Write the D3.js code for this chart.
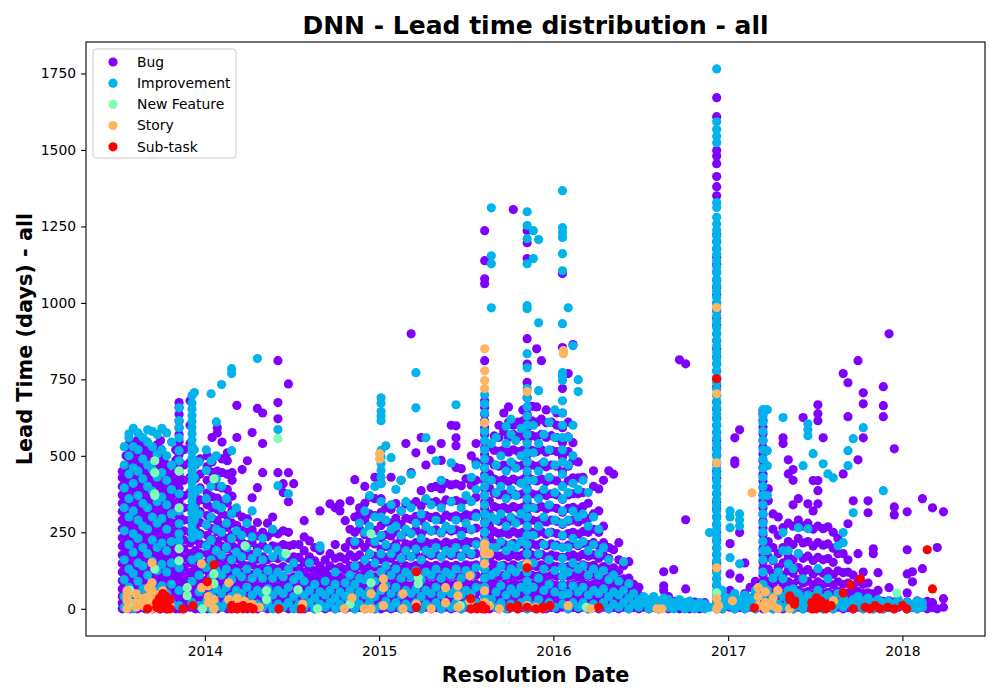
<!DOCTYPE html>
<html>
<head>
<meta charset="utf-8">
<script src="https://cdn.jsdelivr.net/npm/d3@7"></script>
<style>
  body { margin: 0; background: #fff; }
  text { font-family: "DejaVu Sans", sans-serif; }
</style>
</head>
<body>
<svg id="chart" width="1000" height="700"></svg>
<script>
// issue types, drawn in this order (later ones on top)
const categories = ["Bug", "Improvement", "New Feature", "Story", "Sub-task"];
const colors = ["#8000ff", "#00b4eb", "#80ffb4", "#ffb462", "#ff0000"];

const yearTicks = ["2014", "2015", "2016", "2017", "2018"];
const leadTicks = [0, 250, 500, 750, 1000, 1250, 1500, 1750];

// [resolution date, [lead times in days resolved that day]]
const bugData = [
  ["2013-07-12",[0,18,40,65,92,120,148,176,205,232,262,290,318,345,372,400,428,450]],
  ["2013-07-20",[5,30,55,80,108,135,162,190,218,248,275,305,332,360,388,415,442,470,500]],
  ["2013-07-28",[0,20,45,70,98,125,152,180,210,238,265,295,322,350,378,405,435,462,490,520,548]],
  ["2013-08-05",[8,32,58,85,112,140,168,195,225,252,280,308,338,365,392,420,448,478,505,535]],
  ["2013-08-13",[0,22,48,75,102,130,158,186,214,242,270,298,326,355,383,410,440,468,496,525,552]],
  ["2013-08-21",[5,30,56,82,110,138,165,194,222,250,278,306,335,362,390,418,446,475,503,530]],
  ["2013-08-29",[0,20,45,72,100,127,155,183,210,240,268,296,324,352,380,408,436,465,492,520,548]],
  ["2013-09-06",[8,34,60,86,114,142,170,198,226,254,282,310,338,366,394,422,450,478,506,534]],
  ["2013-09-14",[0,24,50,76,104,132,160,188,216,244,272,300,328,356,384,412,440,468,496]],
  ["2013-09-22",[5,30,56,84,112,140,168,196,224,252,280,308,336,364,392,420,448,476,505,535]],
  ["2013-09-30",[0,22,48,74,102,130,158,186,214,242,270,298,326,354,382,410,438,466,494,522,550]],
  ["2013-10-08",[6,32,58,86,114,142,170,198,226,254,282,310,338,366,394,422,450,478]],
  ["2013-10-16",[0,24,50,78,106,134,162,190,218,246,274,302,330,358,386,414,442,470]],
  ["2013-10-24",[5,30,56,84,112,140,168,196,224,252,280,310,340,370,400,430]],
  ["2013-11-01",[0,22,48,76,104,132,160,190,220,250,280,310,345,380,415,450,485,520]],
  ["2013-11-08",[0,20,42,64,86,108,130,152,174,196,218,240,262,284,306,328,350,372,394,416,438,460,482,504,526,548,570,592,614,636,658,674]],
  ["2013-11-18",[0,25,50,78,105,135,165,195,225,255,290,330,370,420,470,520]],
  ["2013-12-01",[5,30,58,88,118,150,180,215,250,290,330,380,430,480,540,600,680]],
  ["2013-12-12",[0,22,48,75,102,130,160,190,225,262,300,340,380,425,470]],
  ["2013-12-22",[0,18,40,66,94,122,150,180,212,246,282,318,356,395,440,490]],
  ["2014-01-06",[0,20,44,70,96,124,152,180,210,240,272,305,340,378,420,465,500]],
  ["2014-01-16",[5,28,54,80,108,136,166,196,228,262,296,330,366,404,446,480,560]],
  ["2014-01-27",[0,22,46,72,100,128,158,188,220,252,288,325,362,400,450,575,592]],
  ["2014-02-06",[6,30,56,84,112,142,172,204,238,272,310,350,395,445,490,545]],
  ["2014-02-17",[0,24,50,76,104,134,164,196,230,266,304,346,390,440,484,510]],
  ["2014-02-27",[4,28,54,82,110,140,172,206,242,280,322,368,420,445]],
  ["2014-03-09",[0,22,48,74,102,132,164,198,234,272,314,560,665]],
  ["2014-03-20",[5,30,56,84,114,146,180,216,256,300,455]],
  ["2014-03-31",[0,24,50,78,108,140,174,210,250,294,484]],
  ["2014-04-10",[4,28,54,82,112,144,178,216,258,363,576]],
  ["2014-04-21",[0,22,46,72,100,130,162,198,238,282,396,655]],
  ["2014-05-02",[5,28,52,78,106,136,170,208,250,445,540,640]],
  ["2014-05-12",[0,20,44,70,98,128,160,196,236,280]],
  ["2014-05-23",[4,26,50,76,104,134,168,206,250,300]],
  ["2014-06-03",[0,22,46,72,100,130,164,202,245,445,621,674,811]],
  ["2014-06-14",[5,28,52,78,106,138,172,210,255,380,409]],
  ["2014-06-25",[0,20,44,70,98,130,165,205,250,350,445,735]],
  ["2014-07-06",[4,26,50,76,104,136,170,210,409]],
  ["2014-07-17",[0,22,46,72,100,132,168,210]],
  ["2014-07-28",[0,18,40,64,90,120,152,190,235,288]],
  ["2014-08-08",[5,26,50,76,104,135,170,222]],
  ["2014-08-19",[0,20,42,68,96,124,157,200]],
  ["2014-08-30",[4,24,48,74,100,114,140,190,320]],
  ["2014-09-10",[0,20,44,70,96,124,160]],
  ["2014-09-20",[5,26,50,78,106,140,180,343]],
  ["2014-10-01",[0,22,46,72,100,130,165,210,330]],
  ["2014-10-11",[4,26,50,76,104,136,170,320,343]],
  ["2014-10-22",[0,20,44,70,98,128,162,200,288]],
  ["2014-11-01",[5,26,50,78,108,140,176,220,260,353]],
  ["2014-11-11",[0,22,46,72,100,132,168,208,250,300,422]],
  ["2014-11-21",[4,26,50,78,108,140,176,216,260,288,310,330]],
  ["2014-12-02",[0,20,44,70,98,128,162,200,242,290,345,400]],
  ["2014-12-12",[5,26,52,80,110,142,178,218,262,310,365]],
  ["2014-12-23",[0,22,46,74,104,136,172,212,256,305,360,430]],
  ["2015-01-05",[0,20,44,70,98,128,160,195,232,272,315,360,410]],
  ["2015-01-15",[5,26,50,78,106,136,168,204,242,284,330]],
  ["2015-01-26",[0,22,46,72,100,130,164,200,238,280,325,430]],
  ["2015-02-05",[4,28,52,80,110,142,176,212,252,296,344]],
  ["2015-02-16",[0,20,44,70,98,128,160,196,234,276,320,420]],
  ["2015-02-26",[5,26,50,78,108,140,174,212,252,296,342,540]],
  ["2015-03-09",[0,22,46,74,104,136,170,208,248,292,340,445,899]],
  ["2015-03-19",[4,26,52,80,110,142,178,216,258,302,350,510]],
  ["2015-03-30",[0,20,44,72,100,132,166,204,244,288,336,386,560]],
  ["2015-04-09",[5,28,54,82,112,144,180,218,260,305,354,470]],
  ["2015-04-20",[0,22,48,76,106,138,174,212,254,298,346,396,520]],
  ["2015-04-30",[4,26,52,80,110,142,178,216,258,302,350,400]],
  ["2015-05-11",[0,22,46,74,104,136,170,208,248,292,340,392,485,540]],
  ["2015-05-21",[5,28,54,82,112,144,180,218,260,306,356,410]],
  ["2015-06-01",[0,22,48,76,106,138,174,212,254,300,350,405,600]],
  ["2015-06-11",[4,26,52,80,110,142,178,216,258,304,354,408,462,533,559,598]],
  ["2015-06-22",[0,20,46,74,104,136,172,210,252,298,348,402,458]],
  ["2015-07-02",[5,28,54,82,112,144,180,220,262,308,358,425]],
  ["2015-07-13",[0,22,48,76,106,140,176,216,258,304,352,404,500]],
  ["2015-07-23",[4,26,52,80,110,144,180,220,264,312,365,420,480,540]],
  ["2015-08-10",[0,20,42,64,86,108,130,152,174,196,218,240,262,284,306,328,350,372,394,416,438,460,482,504,526,548,570,592,614,636,658,680,811,1063,1079,1138,1236]],
  ["2015-08-20",[0,22,46,72,100,130,162,196,232,270,310,352,396,440,485,530]],
  ["2015-08-30",[5,28,54,82,112,144,178,214,252,292,334,378,424,470,518,565]],
  ["2015-09-09",[0,22,48,76,106,138,172,208,246,286,328,372,418,466,515,560,600]],
  ["2015-09-19",[4,26,52,80,110,142,176,212,250,290,332,376,422,470,520,580,640]],
  ["2015-09-29",[0,22,46,74,104,136,170,206,244,284,326,370,416,464,512,560,610,660]],
  ["2015-10-09",[5,28,54,82,112,144,178,214,252,292,334,378,424,472,520,570,600,1305]],
  ["2015-10-19",[0,22,48,76,106,138,172,208,246,286,328,372,418,466,514,562,610]],
  ["2015-10-29",[4,26,52,80,110,142,176,212,250,290,332,376,422,470,518,566,614,650]],
  ["2015-11-07",[0,20,42,64,86,108,130,152,174,196,218,240,262,284,306,328,350,372,394,416,438,460,482,504,526,548,570,592,614,636,660,690,740,800,883,1145,1197,1236]],
  ["2015-11-17",[4,26,52,80,110,142,176,212,250,290,332,376,422,470,518,566,614,662]],
  ["2015-11-27",[0,22,48,76,106,138,172,208,246,286,328,372,418,466,514,562,610,660,850]],
  ["2015-12-07",[5,28,54,82,112,144,178,214,252,292,334,378,424,472,520,570,620,811]],
  ["2015-12-17",[0,22,46,74,104,136,170,206,244,284,326,370,416,464,512,560,608,650]],
  ["2015-12-28",[4,26,52,80,110,142,176,212,250,290,332,376,422,470,518,566,610]],
  ["2016-01-08",[0,22,48,76,106,138,172,208,246,286,328,372,418,466,514,560,600,640]],
  ["2016-01-20",[5,26,52,78,106,136,168,202,238,276,316,358,402,448,496,544,592,640,720,854,1096]],
  ["2016-02-01",[0,22,48,76,106,138,172,208,246,286,328,372,418,466,514,562,610,769]],
  ["2016-02-11",[4,26,52,80,110,142,176,212,250,290,332,376,428,484,543,864]],
  ["2016-02-22",[0,22,46,74,104,136,170,206,244,284,326,376,428,480]],
  ["2016-03-03",[5,28,54,82,112,144,178,214,252,292,334,380,430]],
  ["2016-03-14",[0,22,48,76,106,138,172,210,250,295,345]],
  ["2016-03-25",[4,26,52,80,110,142,176,216,260,310,400,451]],
  ["2016-04-05",[0,20,44,72,100,130,165,205,250,320,392]],
  ["2016-04-15",[5,26,50,78,106,138,175,216,270,420]],
  ["2016-04-26",[0,22,46,72,100,130,165,200,451]],
  ["2016-05-06",[4,24,48,74,102,134,193,440]],
  ["2016-05-17",[0,20,42,66,94,124,160,216]],
  ["2016-05-27",[5,24,46,70,98,141]],
  ["2016-06-07",[0,20,42,69,100,154]],
  ["2016-06-17",[4,24,49,80]],
  ["2016-06-28",[0,20,45,70]],
  ["2016-07-08",[5,25]],
  ["2016-07-19",[0,20]],
  ["2016-07-29",[4,30]],
  ["2016-08-08",[0,15]],
  ["2016-08-19",[5,25,60,75,121]],
  ["2016-08-29",[0,20,40]],
  ["2016-09-09",[4,24,128]],
  ["2016-09-21",[0,20,814]],
  ["2016-10-04",[5,65,291,801]],
  ["2016-10-12",[0,18]],
  ["2016-10-23",[4,22]],
  ["2016-11-02",[0,15]],
  ["2016-11-13",[5,20]],
  ["2016-12-08",[0,24,51,75,98,126,150,177,199,224,252,275,301,326,349,376,400,427,450,474,502,525,551,576,600,623,652,675,699,726,750,777,801,824,850,876,899,926,951,974,1000,1027,1050,1074,1101,1126,1149,1176,1201,1224,1350,1380,1413,1455,1480,1498,1609,1671]],
  ["2016-12-20",[0,15,40]],
  ["2017-01-05",[5,30,60,114,213]],
  ["2017-01-15",[0,20,474,484,559]],
  ["2017-01-25",[4,28,100,249,585]],
  ["2017-02-05",[0,22,50,150]],
  ["2017-02-16",[5,25,70]],
  ["2017-02-27",[0,20,45,90]],
  ["2017-03-15",[0,22,44,66,88,110,132,154,176,198,220,242,264,286,308,330,352,374,396,418,440,462,484,506,528,550,572,594,616,638,648]],
  ["2017-03-26",[4,28,56,90,130,170,220,353,392]],
  ["2017-04-05",[0,24,50,80,115,157,200,260,310]],
  ["2017-04-16",[5,30,60,95,135,180,240,300]],
  ["2017-04-26",[0,22,48,78,110,150,200,265,540,559]],
  ["2017-05-07",[4,28,56,88,125,170,220,280,441,487]],
  ["2017-05-17",[0,24,50,80,116,160,210,270,340,420,455]],
  ["2017-05-28",[5,30,60,95,135,180,230,290,360]],
  ["2017-06-07",[0,24,52,84,120,165,215,270,625]],
  ["2017-06-17",[4,28,56,90,128,172,220,280,343]],
  ["2017-06-28",[0,22,48,78,114,158,205,260,320,419]],
  ["2017-07-08",[5,28,56,88,124,168,216,270,343,386,419,615,638,667]],
  ["2017-07-19",[0,24,50,80,116,160,208,262,559]],
  ["2017-07-29",[4,26,54,86,122,164,212,268]],
  ["2017-08-09",[0,22,48,78,112,152,198,250]],
  ["2017-08-19",[5,28,56,88,124,180,230]],
  ["2017-08-30",[0,24,50,80,118,180,441,769]],
  ["2017-09-09",[4,26,52,84,120,160,278,628,739]],
  ["2017-09-20",[0,22,48,76,110,353]],
  ["2017-09-30",[5,28,56,88,180,487,811]],
  ["2017-10-11",[0,24,50,80,120,559,670,706]],
  ["2017-10-21",[4,26,52,84,314,353]],
  ["2017-11-01",[0,22,49,180,196]],
  ["2017-11-11",[5,28,60,118]],
  ["2017-11-22",[0,24,628,664,726]],
  ["2017-12-04",[4,26,69,899]],
  ["2017-12-15",[0,22,307,333,523]],
  ["2017-12-23",[5,28]],
  ["2018-01-11",[0,22,52,114,193,317]],
  ["2018-01-22",[4,88,121]],
  ["2018-02-01",[0,26]],
  ["2018-02-12",[5,131,360]],
  ["2018-02-22",[0,24]],
  ["2018-03-05",[4,20,330]],
  ["2018-03-15",[0,200]],
  ["2018-03-28",[5,33,317]]
];

const improvementData = [
  ["2013-07-16",[5,40,95,160,255,330,395,470,530]],
  ["2013-07-26",[20,70,130,210,300,360,440,500,559,572]],
  ["2013-08-04",[0,50,115,185,245,320,410,461,530,590]],
  ["2013-08-14",[30,90,150,230,290,370,450,520,575]],
  ["2013-08-24",[10,65,140,200,270,345,425,490,560]],
  ["2013-09-03",[0,45,110,180,260,330,400,470,545,585]],
  ["2013-09-13",[25,85,155,225,300,385,455,530,580]],
  ["2013-09-23",[5,60,125,200,280,350,430,505,570]],
  ["2013-10-03",[15,75,145,215,295,365,445,520,590]],
  ["2013-10-13",[0,50,120,190,260,340,420,500,575]],
  ["2013-10-23",[20,80,150,220,310,390,470,545]],
  ["2013-11-08",[10,60,134,222,245,278,320,376,451,484,517,559,592,615,657]],
  ["2013-12-05",[20,90,160,232,252,272,292,312,332,352,372,392,412,432,452,472,492,512,532,552,572,592,612,632,652,672,697]],
  ["2013-12-10",[250,290,330,380,430,470,520,707]],
  ["2013-12-20",[10,55,110,170,240,310,390,480]],
  ["2014-01-04",[25,75,135,205,275,360,452,520]],
  ["2014-01-14",[0,45,100,160,225,300,400,484,703]],
  ["2014-01-25",[15,65,125,190,260,340,425,500,611]],
  ["2014-02-05",[5,50,110,175,250,330,400,733]],
  ["2014-02-15",[20,70,130,200,280,360]],
  ["2014-02-26",[0,40,95,160,230,310,517,769,785]],
  ["2014-03-08",[15,60,120,185,255,330]],
  ["2014-03-19",[5,50,105,170,240]],
  ["2014-03-30",[20,70,130,200,280]],
  ["2014-04-10",[0,45,100,165,235,320]],
  ["2014-04-21",[15,60,118,185,818]],
  ["2014-05-02",[5,50,100,160,230]],
  ["2014-05-13",[20,65,125,195]],
  ["2014-05-23",[0,45,100,170,260]],
  ["2014-06-03",[15,60,120,190,402,586]],
  ["2014-06-14",[5,50,105,170]],
  ["2014-06-25",[20,70,130,376]],
  ["2014-07-06",[0,40,95,150]],
  ["2014-07-17",[15,55,110]],
  ["2014-07-28",[5,45,90]],
  ["2014-08-08",[20,60,150]],
  ["2014-08-19",[0,35,80]],
  ["2014-08-30",[15,55,200,206]],
  ["2014-09-10",[5,45,90]],
  ["2014-09-20",[20,60]],
  ["2014-10-01",[0,35,80,120]],
  ["2014-10-11",[15,55]],
  ["2014-10-22",[5,40,85]],
  ["2014-11-01",[20,60,110]],
  ["2014-11-11",[0,35,80,140,220]],
  ["2014-11-21",[15,55,100,280]],
  ["2014-12-02",[5,45,95,160,250,320]],
  ["2014-12-12",[20,60,110,180,270,370]],
  ["2014-12-23",[0,40,90,150,220,300,400]],
  ["2015-01-05",[10,60,120,180,240,300,350,409,430,452,474,496,518,615,630,645,672,690]],
  ["2015-01-15",[25,75,140,210,290,533]],
  ["2015-01-26",[5,50,110,180,260,340,494]],
  ["2015-02-05",[20,70,130,200,270,390]],
  ["2015-02-16",[0,45,100,165,240,320,420]],
  ["2015-02-26",[15,60,120,190,260,350]],
  ["2015-03-09",[5,50,105,170,245,330,440]],
  ["2015-03-19",[20,65,125,195,280,657,772]],
  ["2015-03-30",[0,40,95,160,230,310]],
  ["2015-04-09",[15,60,120,190,270,360,559]],
  ["2015-04-20",[5,50,110,180,255,340]],
  ["2015-04-30",[20,70,130,200,290,484]],
  ["2015-05-11",[0,45,100,170,250,330,420]],
  ["2015-05-21",[15,60,120,190,270]],
  ["2015-06-01",[5,50,110,180,260,350,477]],
  ["2015-06-11",[20,65,130,200,290,667]],
  ["2015-06-22",[0,45,100,170,240,330]],
  ["2015-07-02",[15,60,125,195,280,370]],
  ["2015-07-13",[5,50,110,180,260,350,430]],
  ["2015-07-23",[20,70,135,210,300,390,470]],
  ["2015-08-10",[10,40,70,100,130,160,190,220,250,280,310,340,370,400,430,460,490,520,550,580,610,640,670,700]],
  ["2015-08-24",[30,110,200,300,420,540,984,1128,1154,1311]],
  ["2015-09-03",[5,55,120,200,290,380,470,560]],
  ["2015-09-13",[20,75,140,220,310,400,500]],
  ["2015-09-24",[0,45,110,190,270,360,450,540,597]],
  ["2015-10-04",[15,65,130,210,300,390,480,570,620]],
  ["2015-10-14",[5,50,120,200,280,370,460,550]],
  ["2015-10-25",[20,70,140,220,310,410,500,590]],
  ["2015-11-07",[0,30,60,90,120,150,180,210,240,270,300,330,360,390,420,450,480,510,540,570,600,630,660,690,720,788,834,981,991,1128,1210,1253,1298]],
  ["2015-11-20",[10,70,150,240,330,420,510,600,1145,1236]],
  ["2015-12-01",[30,100,180,270,360,450,540,713,935,1207]],
  ["2015-12-12",[0,60,130,210,300,390,480,570]],
  ["2015-12-23",[20,80,160,250,340,430,520,610]],
  ["2016-01-04",[5,55,125,205,290,380,470,560,650]],
  ["2016-01-20",[15,45,75,105,135,165,200,240,280,320,360,400,440,480,520,560,600,640,680,746,760,772,932,1105,1161,1214,1230,1246,1367]],
  ["2016-02-01",[0,50,120,200,290,380,470,560,984]],
  ["2016-02-11",[20,75,150,230,320,410,500,600,860]],
  ["2016-02-22",[5,55,130,210,300,390,710,749]],
  ["2016-03-03",[20,70,140,220,310,420]],
  ["2016-03-14",[0,45,110,190,270,380]],
  ["2016-03-25",[15,60,130,210,300]],
  ["2016-04-05",[5,50,110,180,260]],
  ["2016-04-15",[20,65,125,200]],
  ["2016-04-26",[0,40,95,160]],
  ["2016-05-06",[15,55,110]],
  ["2016-05-17",[5,45,90]],
  ["2016-05-27",[20,60,154]],
  ["2016-06-07",[0,35,82]],
  ["2016-06-17",[15,50]],
  ["2016-06-28",[5,30]],
  ["2016-07-08",[20,40]],
  ["2016-07-19",[0,30]],
  ["2016-07-29",[10,40]],
  ["2016-08-08",[0,25]],
  ["2016-08-19",[15,35]],
  ["2016-08-29",[5,30]],
  ["2016-09-09",[0,20]],
  ["2016-09-21",[10,30]],
  ["2016-10-02",[0,20]],
  ["2016-10-12",[5,25]],
  ["2016-10-23",[0,15]],
  ["2016-11-02",[5,20]],
  ["2016-11-13",[0,15]],
  ["2016-11-23",[5,249]],
  ["2016-12-08",[0,18,38,58,79,98,118,139,158,178,199,218,238,259,278,298,319,338,358,379,398,418,439,458,478,499,518,538,559,578,598,619,638,658,679,698,718,739,758,778,799,818,838,859,878,898,919,938,958,979,998,1018,1039,1058,1078,1099,1118,1138,1159,1178,1198,1219,1238,1258,1280,1312,1328,1524,1545,1567,1592,1765]],
  ["2016-12-20",[0,20,40,60]],
  ["2017-01-05",[10,35,167,265,300,320]],
  ["2017-01-15",[0,25,50]],
  ["2017-01-25",[10,30,147,271,290,310]],
  ["2017-02-05",[0,20,45]],
  ["2017-02-16",[10,35]],
  ["2017-02-27",[0,25,60]],
  ["2017-03-15",[10,40,80,120,160,190,220,250,280,310,340,370,400,430,460,490,520,550,580,610,630,651]],
  ["2017-03-24",[20,60,190,370,468,517,651]],
  ["2017-04-05",[0,40,100,160]],
  ["2017-04-16",[15,55,120]],
  ["2017-04-26",[5,40,98,190,249,625]],
  ["2017-05-07",[20,60,147,190]],
  ["2017-05-17",[0,35,65,131]],
  ["2017-05-28",[10,50,180,265]],
  ["2017-06-07",[0,30,98,468]],
  ["2017-06-17",[15,45,262,566,585,605]],
  ["2017-06-28",[5,40,507]],
  ["2017-07-08",[20,60,131]],
  ["2017-07-19",[0,35,474]],
  ["2017-07-29",[10,45,98,441]],
  ["2017-08-09",[0,30,428]],
  ["2017-08-19",[15,50,206]],
  ["2017-08-30",[5,35,216,249]],
  ["2017-09-09",[20,468,517]],
  ["2017-09-20",[0,30,314,556]],
  ["2017-09-30",[10,40]],
  ["2017-10-11",[0,25,592]],
  ["2017-10-21",[10,35]],
  ["2017-11-01",[0,20]],
  ["2017-11-11",[10,30]],
  ["2017-11-22",[0,20,386]],
  ["2017-12-02",[5,25]],
  ["2017-12-13",[0,15]],
  ["2017-12-23",[10,30]],
  ["2018-01-11",[0,20]],
  ["2018-01-22",[5,15]],
  ["2018-02-01",[0,25]],
  ["2018-02-12",[5,20]]
];

const newFeatureData = [
  ["2013-07-28",[20,60]],
  ["2013-09-18",[130,370,376,445,484]],
  ["2013-11-08",[157,196,330,450]],
  ["2013-11-25",[43,69]],
  ["2013-12-27",[0]],
  ["2014-01-20",[0,82,114,425]],
  ["2014-03-26",[206]],
  ["2014-05-10",[30,59]],
  ["2014-06-03",[556]],
  ["2014-06-20",[180]],
  ["2014-07-15",[62]],
  ["2014-08-25",[0]],
  ["2014-11-01",[16]],
  ["2014-12-15",[85,245]],
  ["2015-03-24",[82,101]],
  ["2015-06-20",[10]],
  ["2016-03-10",[5]],
  ["2016-12-08",[52]],
  ["2017-12-20",[52]]
];

const storyData = [
  ["2013-07-22",[0,26,40,59]],
  ["2013-08-10",[5,20,49]],
  ["2013-08-25",[10,35]],
  ["2013-09-05",[15,40,69]],
  ["2013-09-12",[0,30,60,85,150]],
  ["2013-09-25",[20,45]],
  ["2013-10-05",[25,59]],
  ["2013-10-20",[10]],
  ["2013-12-25",[69,147]],
  ["2014-01-08",[20,40,75]],
  ["2014-01-20",[0,30]],
  ["2014-02-20",[30,85]],
  ["2014-03-10",[10,35]],
  ["2014-03-25",[25]],
  ["2014-04-10",[15]],
  ["2014-04-25",[5]],
  ["2014-07-25",[15]],
  ["2014-10-20",[0]],
  ["2014-11-05",[36]],
  ["2014-12-01",[0]],
  ["2014-12-15",[0,49]],
  ["2015-01-02",[490,507]],
  ["2015-01-10",[10,69,98]],
  ["2015-02-20",[0,49]],
  ["2015-03-20",[15]],
  ["2015-04-20",[0]],
  ["2015-05-20",[20,69]],
  ["2015-06-15",[5,42,75]],
  ["2015-07-10",[25,108]],
  ["2015-07-25",[0]],
  ["2015-08-10",[20,59,147,180,195,212,608,720,746,778,850]],
  ["2015-08-20",[10,180]],
  ["2015-09-10",[0]],
  ["2015-11-07",[10,147,710]],
  ["2015-11-25",[5]],
  ["2016-01-22",[834,844]],
  ["2016-02-01",[10]],
  ["2016-03-20",[0]],
  ["2016-08-05",[0]],
  ["2016-08-15",[0]],
  ["2016-12-08",[0,33,134,477,703,985]],
  ["2016-12-12",[10]],
  ["2017-01-10",[26]],
  ["2017-02-20",[379]],
  ["2017-03-05",[10,40,69]],
  ["2017-03-20",[0,20,55]],
  ["2017-04-05",[10,35]],
  ["2017-04-15",[0,60]],
  ["2017-05-10",[0]],
  ["2017-08-10",[26]]
];

const subTaskData = [
  ["2013-09-03",[0]],
  ["2013-09-22",[5,20]],
  ["2013-09-28",[0,10,35]],
  ["2013-10-05",[5,25,50]],
  ["2013-10-12",[0,15,40]],
  ["2013-10-20",[0,30]],
  ["2013-11-16",[0]],
  ["2013-12-07",[10]],
  ["2014-01-06",[88]],
  ["2014-01-20",[144]],
  ["2014-02-26",[0,10]],
  ["2014-03-10",[0,5]],
  ["2014-03-22",[0,10]],
  ["2014-04-05",[5]],
  ["2014-04-12",[0]],
  ["2014-06-05",[0]],
  ["2014-07-22",[0]],
  ["2015-03-20",[5,121]],
  ["2015-07-12",[0,33]],
  ["2015-07-25",[0,5]],
  ["2015-08-05",[0,10]],
  ["2015-08-12",[0]],
  ["2015-10-02",[5]],
  ["2015-10-18",[0,10]],
  ["2015-11-07",[5,134]],
  ["2015-11-25",[0]],
  ["2015-12-10",[0,5]],
  ["2015-12-25",[10]],
  ["2016-04-05",[5]],
  ["2016-12-08",[752]],
  ["2017-02-25",[3]],
  ["2017-05-10",[30,42]],
  ["2017-05-20",[15,26]],
  ["2017-06-25",[0,20]],
  ["2017-07-05",[0,10,36]],
  ["2017-07-15",[5,25]],
  ["2017-07-25",[0,15]],
  ["2017-08-05",[10]],
  ["2017-08-30",[52]],
  ["2017-09-15",[78]],
  ["2017-09-20",[0]],
  ["2017-10-05",[98]],
  ["2017-10-15",[5]],
  ["2017-10-25",[0]],
  ["2017-11-05",[10]],
  ["2017-11-15",[0]],
  ["2017-12-01",[5]],
  ["2017-12-15",[0]],
  ["2018-01-01",[10]],
  ["2018-01-10",[0]],
  ["2018-02-22",[193]],
  ["2018-03-05",[65]]
];

const seriesData = [bugData, improvementData, newFeatureData, storyData, subTaskData];

const svg = d3.select("#chart");
const margin = { left: 86, right: 15, top: 42, bottom: 64 };
const W = 1000, H = 700;
const parse = d3.timeParse("%Y-%m-%d");

const x = d3.scaleTime()
  .domain([parse("2013-04-27"), parse("2018-06-23")])
  .range([margin.left, W - margin.right]);
const y = d3.scaleLinear()
  .domain([-89, 1853])
  .range([H - margin.bottom, margin.top]);

// points
seriesData.forEach((rows, i) => {
  const pts = rows.flatMap(([d, vals]) => vals.map(v => ({ date: parse(d), v })));
  svg.append("g")
    .selectAll("circle")
    .data(pts)
    .enter()
    .append("circle")
    .attr("cx", d => x(d.date))
    .attr("cy", d => y(d.v))
    .attr("r", 4.6)
    .attr("fill", colors[i]);
});

// axes
const xAxis = svg.append("g")
  .attr("transform", `translate(0,${H - margin.bottom})`)
  .call(d3.axisBottom(x)
    .tickValues(yearTicks.map(t => parse(t + "-01-01")))
    .tickFormat(d3.timeFormat("%Y"))
    .tickSizeOuter(0)
    .tickSize(4.9)
    .tickPadding(5));
const yAxis = svg.append("g")
  .attr("transform", `translate(${margin.left},0)`)
  .call(d3.axisLeft(y)
    .tickValues(leadTicks)
    .tickFormat(d3.format("d"))
    .tickSizeOuter(0)
    .tickSize(4.9)
    .tickPadding(5));
[xAxis, yAxis].forEach(a => {
  a.select(".domain").remove();
  a.attr("font-size", null);
  a.selectAll("text").attr("font-size", 13.9).attr("fill", "#000")
    .style("font-family", "DejaVu Sans");
  a.selectAll("line").attr("stroke", "#000").attr("stroke-width", 1.1);
});

// frame
svg.append("rect")
  .attr("x", margin.left).attr("y", margin.top)
  .attr("width", W - margin.left - margin.right)
  .attr("height", H - margin.top - margin.bottom)
  .attr("fill", "none").attr("stroke", "#000").attr("stroke-width", 1.1);

// titles
svg.append("text")
  .attr("x", (margin.left + W - margin.right) / 2).attr("y", 34)
  .attr("text-anchor", "middle").attr("font-size", 25).attr("font-weight", "bold")
  .text("DNN - Lead time distribution - all");
svg.append("text")
  .attr("x", (margin.left + W - margin.right) / 2).attr("y", 682)
  .attr("text-anchor", "middle").attr("font-size", 20.8).attr("font-weight", "bold")
  .text("Resolution Date");
svg.append("text")
  .attr("transform", `translate(32,${(margin.top + H - margin.bottom) / 2}) rotate(-90)`)
  .attr("text-anchor", "middle").attr("font-size", 20.8).attr("font-weight", "bold")
  .text("Lead Time (days) - all");

// legend
const lg = svg.append("g").attr("transform", "translate(93,49)");
lg.append("rect")
  .attr("width", 143).attr("height", 109).attr("rx", 3)
  .attr("fill", "#fff").attr("fill-opacity", 0.8)
  .attr("stroke", "#cccccc").attr("stroke-width", 1);
categories.forEach((c, i) => {
  const cy = 13 + i * 21.2;
  lg.append("circle").attr("cx", 20).attr("cy", cy).attr("r", 4.6).attr("fill", colors[i]);
  lg.append("text").attr("x", 44).attr("y", cy + 4.8)
    .attr("font-size", 13.9).text(c);
});
</script>
</body>
</html>
